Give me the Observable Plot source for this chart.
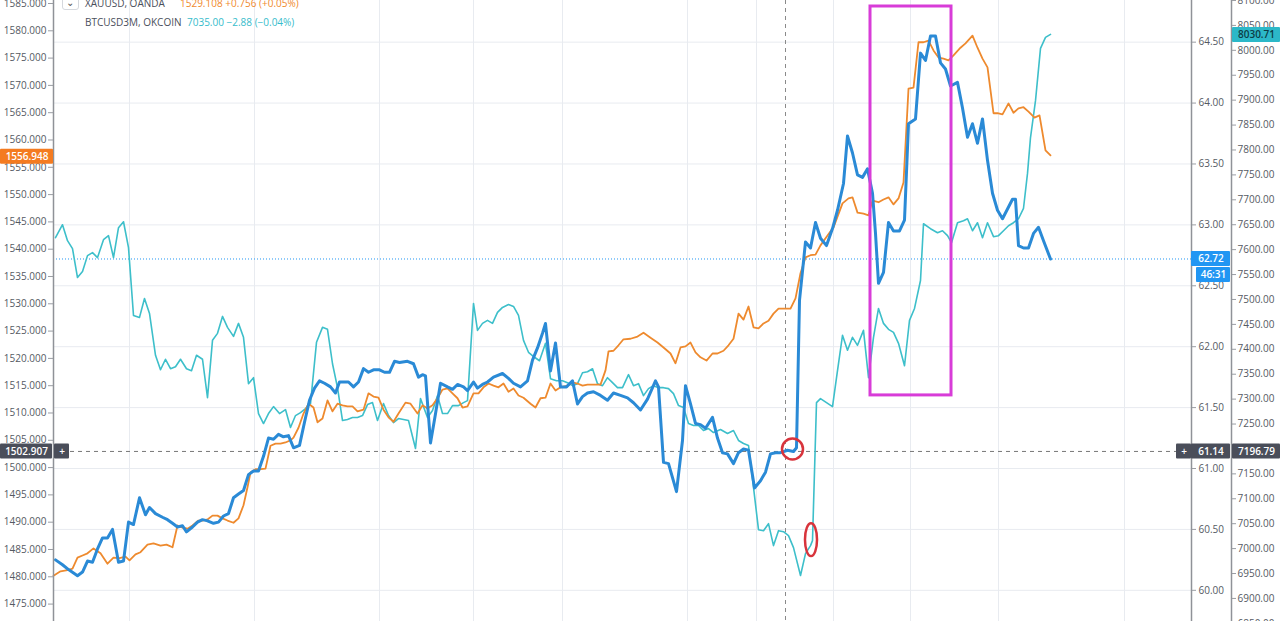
<!DOCTYPE html>
<html>
<head>
<meta charset="utf-8">
<script src="https://cdn.jsdelivr.net/npm/d3@7"></script>
<script src="https://cdn.jsdelivr.net/npm/@observablehq/plot@0.6"></script>
<style>
  html, body { margin: 0; padding: 0; background: #fff; }
  #wrap { position: relative; width: 1280px; height: 621px; overflow: hidden; font-family: "Open Sans", "Noto Sans", sans-serif; }
  #wrap svg { display: block; }
  .lg { position: absolute; font-size: 10px; color: #4a4f5b; white-space: nowrap; line-height: 14px; }
  .btn { position: absolute; left: 62px; top: -7px; width: 17px; height: 17px; border: 1px solid #d5d8dd; border-radius: 3px; background: #fff; box-sizing: border-box; }
  .btn span { position: absolute; left: 3px; top: 1px; font-size: 10px; color: #555; }
</style>
</head>
<body>
<div id="wrap">
  <div id="chart"></div>
  <div class="btn"><span>&#x2304;</span></div>
  <div class="lg" style="left:85px;top:-4px;">XAUUSD, OANDA</div>
  <div class="lg" style="left:180px;top:-4px;color:#f0892c;">1529.108 +0.756 (+0.05%)</div>
  <div class="lg" style="left:85px;top:15px;">BTCUSD3M, OKCOIN</div>
  <div class="lg" style="left:187px;top:15px;color:#36bccb;">7035.00 −2.88 (−0.04%)</div>
</div>
<script>
// ---- data: [time index, value] ----
const goldSeries = [
[0,1480.2],[7,1481.0],[14,1481.2],[19,1481.5],[24,1483.5],[29,1483.9],[34,1484.3],[40,1485.2],[47,1484.3],[54,1482.4],
[60,1483.5],[66,1483.4],[72,1483.7],[76,1483.0],[82,1484.1],[87,1484.5],[94,1485.9],[100,1486.1],[107,1485.7],[113,1485.9],
[119,1485.4],[124,1489.4],[129,1489.0],[134,1488.8],[139,1489.4],[145,1490.3],[149,1490.3],[154,1490.5],[159,1491.2],[164,1491.2],
[169,1490.7],[174,1490.3],[180,1489.9],[185,1490.7],[190,1493.1],[194,1496.4],[197,1499.1],[202,1499.7],[207,1499.7],[212,1499.8],
[217,1504.0],[222,1504.4],[227,1504.4],[232,1504.6],[237,1505.0],[240,1505.5],[245,1507.3],[250,1509.9],[255,1511.7],[260,1511.0],
[264,1508.3],[269,1509.0],[274,1512.3],[279,1510.3],[284,1511.7],[289,1511.4],[294,1511.2],[299,1511.2],[304,1510.3],[310,1510.6],
[315,1513.6],[320,1513.0],[325,1512.8],[330,1510.6],[335,1509.2],[340,1508.4],[345,1509.9],[352,1511.9],[357,1511.7],[364,1509.9],
[369,1511.4],[374,1510.8],[379,1511.4],[384,1512.7],[389,1514.3],[394,1514.5],[399,1513.6],[404,1512.7],[409,1511.0],[414,1511.2],
[420,1513.6],[425,1513.6],[430,1514.7],[435,1515.4],[440,1515.0],[445,1514.7],[450,1515.4],[455,1513.9],[460,1514.5],[465,1513.2],
[470,1512.8],[477,1511.7],[482,1511.0],[487,1512.7],[492,1512.8],[497,1515.4],[502,1514.1],[507,1514.7],[514,1515.0],[519,1515.6],
[524,1515.4],[529,1515.0],[534,1515.2],[540,1515.2],[547,1515.2],[552,1517.8],[555,1521.3],[560,1521.4],[565,1522.4],[570,1523.5],
[577,1523.6],[584,1524.0],[590,1524.7],[597,1523.8],[604,1522.9],[610,1522.0],[617,1520.9],[622,1519.1],[627,1522.0],[632,1522.2],
[637,1522.9],[642,1521.1],[647,1520.2],[653,1519.6],[659,1520.9],[664,1520.9],[670,1521.4],[675,1522.4],[680,1523.6],[685,1528.2],
[690,1527.1],[695,1529.5],[700,1525.7],[705,1525.5],[710,1526.4],[715,1526.9],[720,1528.2],[725,1529.1],[732,1529.1],[737,1529.1],
[742,1531.0],[747,1535.6],[752,1538.5],[757,1538.9],[762,1539.0],[767,1540.7],[774,1542.5],[780,1544.0],[789,1548.4],[795,1549.3],
[799,1549.5],[804,1546.7],[810,1546.5],[815,1546.2],[819,1548.9],[825,1548.6],[830,1549.1],[835,1549.5],[840,1548.2],[845,1549.3],
[850,1552.2],[855,1569.4],[860,1569.6],[865,1577.9],[870,1577.9],[875,1578.2],[880,1576.4],[885,1575.1],[890,1574.9],[895,1574.6],
[900,1575.5],[907,1576.9],[912,1577.7],[919,1579.1],[924,1576.9],[929,1574.9],[934,1573.3],[940,1564.9],[944,1564.9],[949,1564.7],
[955,1566.7],[960,1565.0],[965,1565.8],[970,1566.0],[975,1565.2],[981,1564.1],[986,1564.5],[992,1558.1],[997,1557.2]
];

const midSeries = [
[2,60.25],[9,60.21],[15,60.17],[24,60.12],[29,60.15],[34,60.24],[39,60.23],[44,60.34],[49,60.43],[54,60.43],
[59,60.50],[65,60.23],[70,60.24],[75,60.56],[80,60.54],[86,60.76],[92,60.62],[96,60.68],[102,60.63],[109,60.60],
[114,60.58],[119,60.55],[124,60.52],[129,60.53],[133,60.48],[139,60.52],[144,60.56],[149,60.58],[154,60.57],[160,60.55],
[165,60.56],[170,60.61],[175,60.63],[180,60.76],[185,60.79],[190,60.82],[195,60.95],[200,60.98],[205,60.98],[210,61.10],
[215,61.25],[220,61.24],[225,61.28],[230,61.26],[235,61.27],[240,61.17],[246,61.19],[251,61.38],[256,61.56],[261,61.66],
[266,61.72],[271,61.70],[277,61.67],[282,61.62],[286,61.71],[290,61.71],[295,61.71],[300,61.67],[305,61.71],[310,61.82],
[315,61.79],[320,61.81],[326,61.81],[331,61.79],[336,61.79],[341,61.88],[346,61.87],[354,61.88],[360,61.86],[365,61.75],
[369,61.77],[372,61.76],[377,61.21],[382,61.45],[387,61.70],[394,61.67],[399,61.65],[404,61.69],[410,61.67],[414,61.64],
[420,61.71],[424,61.66],[429,61.69],[434,61.71],[440,61.75],[449,61.78],[455,61.74],[460,61.70],[467,61.67],[474,61.72],
[479,61.89],[484,61.99],[489,62.11],[492,62.19],[497,61.80],[502,62.03],[507,61.67],[513,61.67],[519,61.72],[524,61.53],
[529,61.59],[534,61.62],[540,61.63],[547,61.60],[554,61.56],[560,61.62],[567,61.60],[574,61.58],[580,61.54],[587,61.48],
[594,61.57],[602,61.72],[605,61.67],[610,61.05],[615,61.04],[623,60.81],[629,61.23],[632,61.68],[637,61.53],[642,61.37],
[647,61.36],[652,61.33],[659,61.42],[664,61.25],[669,61.13],[674,61.12],[680,61.04],[685,61.13],[690,61.16],[695,61.15],
[701,60.84],[707,60.90],[712,60.97],[717,61.12],[722,61.13],[727,61.13],[734,61.15],[740,61.14],[743,61.17],[746,62.38],
[752,62.86],[757,62.81],[762,63.02],[767,62.89],[773,62.83],[779,62.97],[784,63.12],[790,63.34],[794,63.73],[799,63.59],
[804,63.41],[809,63.39],[814,63.46],[819,63.26],[822,62.93],[825,62.52],[830,62.61],[835,63.02],[840,62.95],[846,62.95],
[851,63.04],[855,63.83],[862,63.87],[867,64.41],[872,64.35],[877,64.55],[882,64.55],[887,64.33],[892,64.28],[897,64.14],
[904,64.17],[909,63.96],[914,63.72],[919,63.83],[924,63.67],[929,63.87],[934,63.53],[939,63.26],[944,63.12],[949,63.05],
[954,63.13],[959,63.21],[962,63.21],[965,62.83],[970,62.81],[975,62.81],[980,62.93],[985,62.98],[990,62.87],[997,62.72]
];

const btcSeries = [
[2,7624],[9,7650],[14,7618],[19,7602],[24,7544],[29,7556],[34,7588],[39,7594],[44,7584],[50,7620],
[55,7628],[60,7584],[65,7644],[70,7656],[75,7604],[80,7468],[86,7464],[91,7502],[96,7472],[102,7388],
[107,7359],[112,7380],[117,7361],[122,7365],[127,7380],[133,7361],[138,7357],[143,7388],[149,7380],[154,7303],
[159,7418],[164,7432],[169,7466],[174,7444],[180,7426],[185,7452],[190,7424],[195,7331],[200,7343],[205,7271],
[210,7251],[215,7271],[220,7285],[226,7271],[232,7279],[237,7243],[242,7267],[247,7273],[252,7281],[257,7291],
[263,7414],[269,7444],[274,7440],[279,7371],[284,7323],[289,7257],[294,7259],[299,7263],[304,7263],[309,7267],
[314,7289],[319,7293],[324,7257],[330,7291],[335,7267],[340,7253],[345,7261],[355,7257],[362,7201],[367,7301],
[374,7263],[379,7277],[384,7307],[389,7271],[394,7271],[399,7287],[405,7287],[410,7293],[414,7297],[420,7492],
[424,7438],[429,7452],[434,7458],[439,7452],[444,7474],[449,7484],[455,7490],[460,7486],[465,7468],[470,7418],
[475,7394],[481,7384],[486,7377],[492,7412],[497,7341],[503,7337],[509,7337],[514,7333],[519,7327],[524,7331],
[529,7353],[534,7355],[539,7361],[544,7331],[549,7327],[554,7343],[559,7333],[564,7323],[569,7323],[575,7349],
[580,7327],[585,7331],[590,7307],[595,7321],[600,7327],[605,7323],[610,7323],[615,7321],[620,7311],[625,7287],
[630,7283],[635,7251],[640,7247],[645,7247],[650,7237],[655,7241],[660,7233],[667,7239],[674,7231],[680,7237],
[685,7217],[690,7211],[695,7207],[700,7123],[705,7038],[710,7036],[715,7050],[720,7006],[725,7036],[730,7034],
[735,7026],[740,7002],[747,6946],[752,6990],[757,7006],[759,7016],[763,7293],[767,7301],[773,7293],[779,7285],
[784,7357],[789,7428],[794,7398],[799,7424],[804,7408],[810,7438],[815,7343],[820,7424],[825,7482],[830,7452],
[835,7440],[840,7434],[845,7412],[851,7367],[856,7458],[861,7482],[867,7538],[870,7652],[877,7642],[884,7634],
[889,7638],[894,7628],[898,7614],[904,7654],[910,7658],[914,7662],[919,7638],[924,7654],[929,7624],[934,7654],
[940,7626],[945,7628],[950,7638],[955,7648],[960,7654],[965,7662],[970,7683],[974,7753],[977,7825],[982,7899],
[987,8004],[992,8026],[997,8032]
];

const goldTicks = d3.range(1475, 1586, 5);
const midTicks = d3.range(60, 64.51, 0.5);
const btcTicks = d3.range(6850, 8101, 50);
const gridTimes = [76, 201, 326, 420, 509, 634, 703, 780, 857, 945, 1071];
const crossTime = 732;
const crossMid = 61.14;
const lastMid = 62.72;
const lastGold = 1556.948;
const lastBtc = 8030.71;

// ---- scale configuration ----
const W = 1280, H = 621, mL = 53, mR = 89;
const tMax = 1138;
const yLo = 59.744, yHi = 64.842;
const gLo = 1471.81, gHi = 1585.55;
const cLo = 6853.7, cHi = 8100;
const g2y = g => yLo + (g - gLo) / (gHi - gLo) * (yHi - yLo);
const c2y = c => yLo + (c - cLo) / (cHi - cLo) * (yHi - yLo);
const unitPerPx = (yHi - yLo) / H;
const hh = 7.5 * unitPerPx;

const boxes = [
  {x1: -53, x2: 0, y: g2y(lastGold), text: "1556.948", fill: "#f47b20", color: "#fff"},
  {x1: -53, x2: -1, y: crossMid, text: "1502.907", fill: "#4a4e5a", color: "#fff"},
  {x1: 1, x2: 16, y: crossMid, text: "+", fill: "#4a4e5a", color: "#fff"},
  {x1: tMax - 15, x2: tMax, y: crossMid, text: "+", fill: "#4a4e5a", color: "#fff"},
  {x1: tMax, x2: tMax + 39, y: crossMid, text: "61.14", fill: "#4a4e5a", color: "#fff"},
  {x1: tMax + 41, x2: tMax + 89, y: crossMid, text: "7196.79", fill: "#4a4e5a", color: "#fff"},
  {x1: tMax, x2: tMax + 39, y: lastMid, text: "62.72", fill: "#2196f3", color: "#fff"},
  {x1: tMax + 5, x2: tMax + 39, y: lastMid - 16 * unitPerPx, text: "46:31", fill: "#2196f3", color: "#fff"},
  {x1: tMax + 41, x2: tMax + 89, y: c2y(lastBtc), text: "8030.71", fill: "#2cb8c8", color: "#0c3d45"}
];

const chart = Plot.plot({
  width: W, height: H,
  marginLeft: mL, marginRight: mR, marginTop: 0, marginBottom: 0,
  x: {domain: [0, tMax], axis: null},
  y: {domain: [yLo, yHi], axis: null},
  style: {fontFamily: "'Open Sans', 'Noto Sans', sans-serif", fontSize: "10px", color: "#555a63", background: "#fff", overflow: "visible"},
  marks: [
    Plot.ruleY(midTicks, {stroke: "#e8ebf0", strokeWidth: 1}),
    Plot.ruleX(gridTimes, {stroke: "#e8ebf0", strokeWidth: 1}),
    Plot.ruleX([crossTime], {stroke: "#8a8a8a", strokeDasharray: "4,4", strokeWidth: 1}),
    Plot.ruleY([crossMid], {x1: 17, x2: tMax - 15, stroke: "#777", strokeDasharray: "4,4", strokeWidth: 1}),
    Plot.ruleY([lastMid], {stroke: "#2196f3", strokeDasharray: "1,2", strokeWidth: 1}),
    Plot.line(btcSeries, {x: d => d[0], y: d => c2y(d[1]), stroke: "#3dbfca", strokeWidth: 1.6}),
    Plot.line(goldSeries, {x: d => d[0], y: d => g2y(d[1]), stroke: "#ee8a2e", strokeWidth: 1.8}),
    Plot.line(midSeries, {x: d => d[0], y: d => d[1], stroke: "#2a8ad6", strokeWidth: 3}),
    // annotations
    Plot.rect([0], {x1: 817, x2: 898, y1: yHi - 6 * unitPerPx, y2: 61.60, fill: "none", stroke: "#d83cd8", strokeWidth: 3}),
    Plot.dot([0], {x: 739, y: 61.16, r: 10.5, fill: "none", stroke: "#d8343c", strokeWidth: 2.5}),
    Plot.rect([0], {x1: 752, x2: 764, y1: c2y(7050), y2: c2y(6984), rx: 6, ry: 16, fill: "none", stroke: "#d8343c", strokeWidth: 2.5}),
    // axes
    Plot.ruleX([0], {stroke: "#8f9298", strokeWidth: 1.5}),
    Plot.ruleX([tMax], {stroke: "#8f9298", strokeWidth: 1.5}),
    Plot.ruleX([tMax], {stroke: "#8f9298", strokeWidth: 1.5, dx: 40}),
    Plot.axisY(goldTicks, {y: g2y, anchor: "left", tickSize: 5, tickPadding: 2, label: null, tickFormat: d => d.toFixed(3), stroke: "#9a9da3", fontSize: 10}),
    Plot.axisY(midTicks, {anchor: "right", tickSize: 4, tickPadding: 3, label: null, tickFormat: d => d.toFixed(2), stroke: "#9a9da3", fontSize: 10}),
    Plot.axisY(btcTicks, {y: c2y, anchor: "right", dx: 40, tickSize: 4, tickPadding: 2, label: null, tickFormat: d => d.toFixed(2), stroke: "#9a9da3", fontSize: 10}),
    // price label boxes
    Plot.rect(boxes, {x1: "x1", x2: "x2", y1: d => d.y - hh, y2: d => d.y + hh, fill: "fill", rx: 1}),
    Plot.text(boxes, {x: d => (d.x1 + d.x2) / 2, y: "y", text: "text", fill: "color", fontSize: 10, fontWeight: 600})
  ]
});
document.getElementById("chart").appendChild(chart);
</script>
</body>
</html>
